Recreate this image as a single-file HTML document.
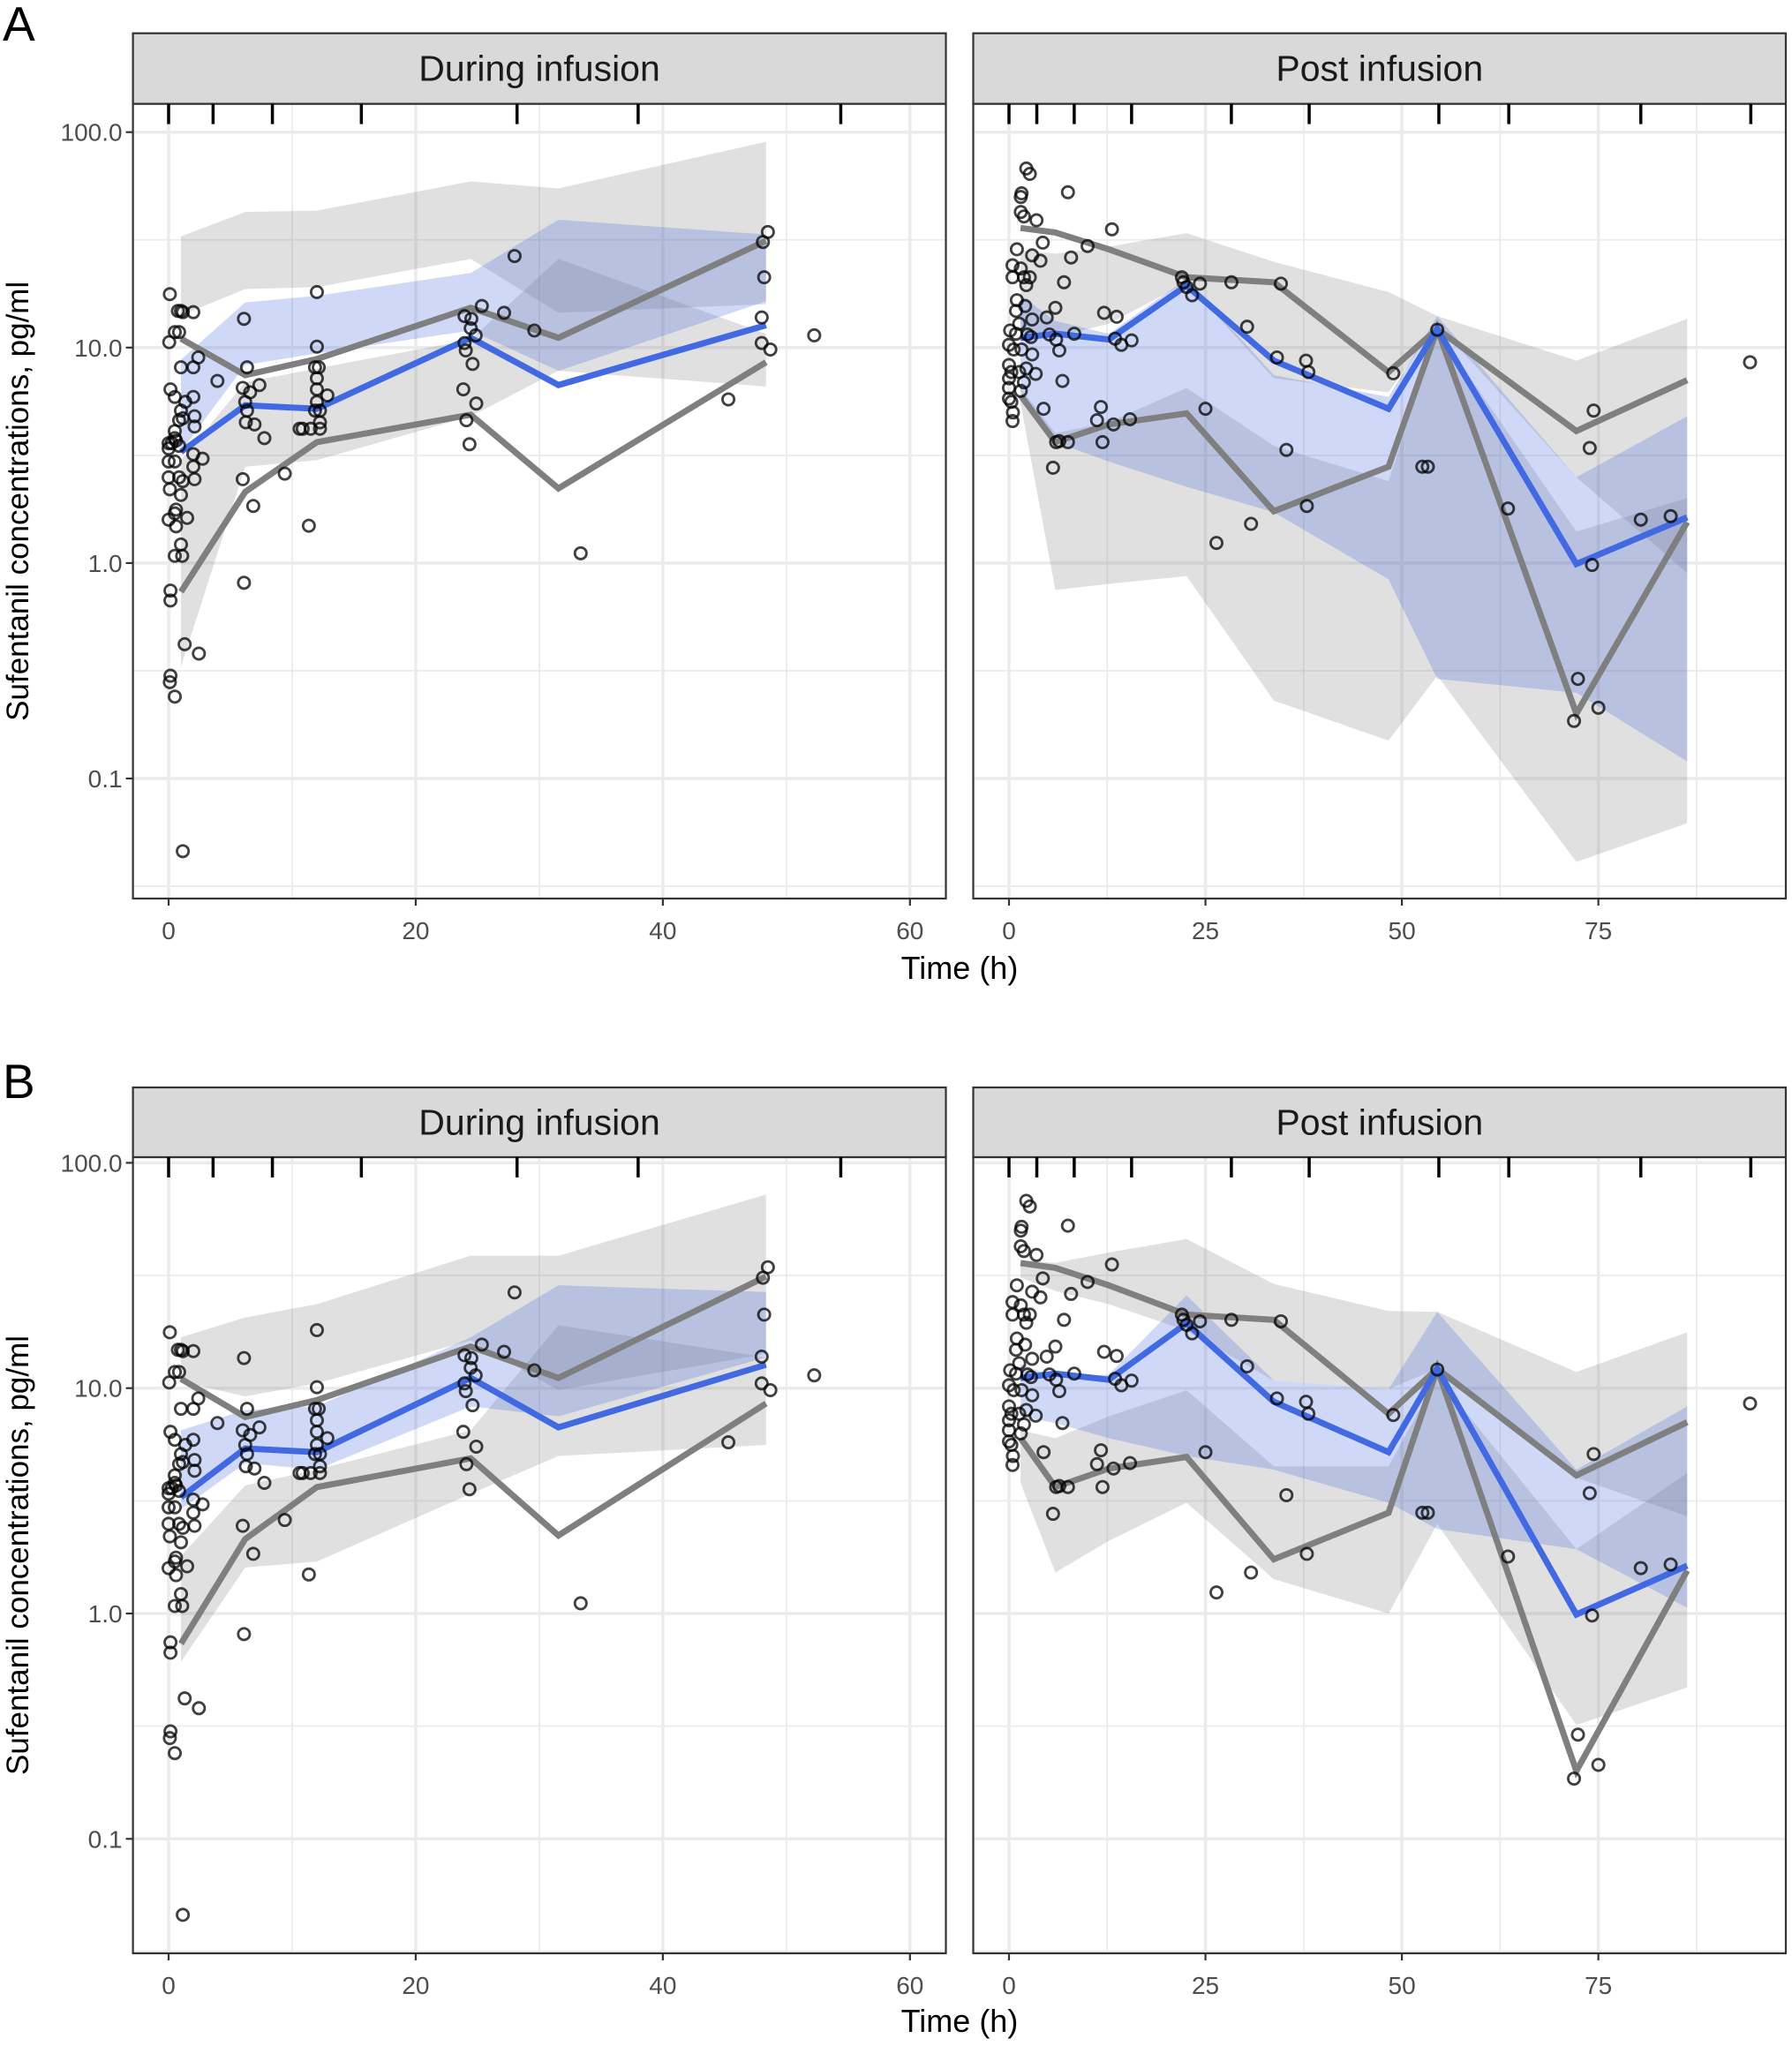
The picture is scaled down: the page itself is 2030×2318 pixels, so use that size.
<!DOCTYPE html>
<html><head><meta charset="utf-8">
<style>
html,body{margin:0;padding:0;background:#fff;}
svg{display:block;font-family:"Liberation Sans",Arial,sans-serif;}
</style></head>
<body>
<svg id="chart" width="2030" height="2318" viewBox="0 0 2030 2318" xmlns="http://www.w3.org/2000/svg"></svg>
<script>
// ---------- data ----------
const leftObsT = [0.1,0.05,0.5,0.85,0.75,1.0,1.15,2.0,2.0,1.0,2.4,3.95,0.15,0.5,1.35,2.0,1.0,1.15,0.85,2.1,2.1,0.5,0,0.25,0.6,0.85,0.5,0,2.0,2.75,0,0.5,2.0,0,0.85,2.1,1.15,0.1,1.0,0.6,0.5,0,1.5,0.6,1.0,0.5,1.1,0.15,0.15,1.3,2.45,0.15,0.1,0.5,1.15,
 6.1,6.35,6.0,6.6,7.35,6.2,6.35,6.25,6.95,7.75,6.0,6.85,6.1,9.4,
 12.0,12.0,11.85,12.15,12.0,12.0,12.85,12.0,11.85,12.25,12.25,10.6,10.85,11.5,12.25,11.35,
 23.95,24.5,24.45,24.85,25.35,23.95,24.05,24.6,23.85,24.9,24.1,24.35,27.15,28.0,29.6,33.35,
 48.5,48.1,48.2,48.0,48.0,48.7,45.3,52.25];
const leftObsC = [17.7,10.6,11.8,11.8,14.8,14.8,14.6,14.6,8.1,8.1,9.0,7.0,6.4,5.9,5.6,5.9,5.1,4.7,4.6,4.8,4.3,4.1,3.6,3.6,3.7,3.5,3.8,3.4,3.2,3.05,2.96,2.96,2.8,2.5,2.5,2.45,2.4,2.2,2.07,1.77,1.7,1.59,1.62,1.48,1.22,1.08,1.08,0.745,0.67,0.42,0.38,0.30,0.28,0.24,0.046,
 13.6,8.1,6.5,6.2,6.7,5.6,5.1,4.5,4.4,3.8,2.45,1.84,0.81,2.6,
 18.1,10.1,8.1,8.1,7.2,6.4,6.0,5.6,5.1,5.1,4.5,4.2,4.2,4.2,4.2,1.49,
 14.0,13.6,12.3,11.4,15.6,10.5,9.7,8.4,6.4,5.5,4.6,3.56,14.5,26.6,12.0,1.11,
 34.4,30.9,21.2,13.8,10.5,9.8,5.75,11.4];
const rightObsT = [2.2,2.65,1.6,1.5,7.5,1.5,1.9,3.5,13.1,4.3,10.0,1.0,2.95,7.9,4.0,0.45,1.5,0.45,1.9,2.65,7.0,2.2,22.0,22.2,22.6,23.3,24.3,28.3,34.6,
 1.0,2.05,0.9,5.9,4.8,2.95,12.1,13.7,1.3,0.15,0.9,2.35,2.8,5.15,6.0,8.3,13.5,14.3,15.6,0,0.6,1.6,2.95,6.4,0,0.3,1.3,2.2,3.4,0,1.9,6.8,0,1.5,0,0.3,0.5,0.45,4.4,11.7,11.2,13.3,15.4,6.0,6.4,7.5,11.9,5.6,
 25.0,30.3,34.1,37.8,38.1,48.9,54.5,35.3,37.9,30.8,26.4,52.6,53.3,63.5,74.4,73.9,74.2,80.4,84.2,72.4,71.9,75.0,94.3];
const rightObsC = [67.8,64,52,50,52.6,42.6,40.6,39,35.4,30.7,29.6,28.6,26.8,26.2,25.3,24.1,23.3,21.2,21.2,21.2,20.1,19.5,21.2,20.1,19.1,17.5,19.8,20.1,19.8,
 16.6,15.6,14.8,15.3,13.8,13.5,14.5,13.9,12.9,12.0,11.6,11.5,11.2,11.5,10.9,11.6,11.0,10.3,10.8,10.3,9.8,9.8,9.3,9.7,8.3,7.7,7.7,8.0,7.55,7.2,6.9,7.0,6.5,6.3,5.8,5.6,5.0,4.56,5.2,5.3,4.6,4.4,4.65,3.64,3.68,3.64,3.64,2.77,
 5.2,12.5,9.0,8.7,7.7,7.6,12.1,3.35,1.84,1.52,1.24,2.8,2.8,1.79,5.1,3.42,0.98,1.59,1.65,0.29,0.185,0.213,8.55];

const leftBinT = [1.0,6.2,12.0,24.45,31.55,48.35];
const leftMed = [3.28,5.4,5.2,11.1,6.7,12.7];
const leftP95 = [11.0,7.45,8.85,15.3,11.1,31.3];
const leftP05 = [0.735,2.14,3.64,4.88,2.22,8.55];
const rightBinT = [1.47,5.9,12.7,22.6,33.7,48.3,54.5,72.2,86.3];
const rightMed = [11.1,11.6,10.9,19.4,8.7,5.2,12.2,0.99,1.63];
const rightP95 = [35.9,34.2,28.6,21.2,20.1,7.7,12.2,4.1,7.06];
const rightP05 = [6.0,3.64,4.4,4.95,1.74,2.8,12.2,0.2,1.55];

// Model A prediction intervals
const aLeftUpHi = [32.8,42.6,43.2,59.1,54.8,90.2];
const aLeftUpLo = [14.1,18.7,19.1,25.8,14.5,15.9];
const aLeftMidHi = [8.8,16.2,17.4,22.2,39.2,33.5];
const aLeftMidLo = [3.3,8.3,9.4,12.0,7.8,16.4];
const aLeftLowHi = [3.0,6.9,8.0,10.9,25.8,11.6];
const aLeftLowLo = [0.33,2.8,3.0,4.8,7.8,6.6];
const aRightUpHi = [28.3,27.3,29.4,34,25,18.1,14,8.7,13.6];
const aRightUpLo = [11.6,11.2,12.9,20,7.2,6.2,12.9,2.5,0.9];
const aRightMidHi = [17.5,13.3,11.6,20.8,7.45,5.9,14,2.5,4.8];
const aRightMidLo = [6.3,3.64,2.96,2.26,1.72,0.84,0.29,0.25,0.12];
const aRightLowHi = [6.5,4.0,4.5,6.5,3.5,2.4,12,1.4,2.0];
const aRightLowLo = [5.5,0.75,0.8,0.87,0.23,0.15,0.3,0.041,0.062];
// Model B prediction intervals
const bLeftUpHi = [16.8,20.6,23.6,38.7,38.7,72.3];
const bLeftUpLo = [10.7,9.2,10.5,16.3,9.8,14.2];
const bLeftMidHi = [6.5,8.0,8.3,16.8,28.6,26.7];
const bLeftMidLo = [2.9,4.65,4.35,8.3,7.5,13.7];
const bLeftLowHi = [1.8,3.7,4.35,6.5,19,13.7];
const bLeftLowLo = [0.61,1.6,1.7,3.4,5.0,5.6];
const bRightUpHi = [36.7,36,40,45.9,29,22,21.8,11.8,17.7];
const bRightUpLo = [31,27,23.6,18,10.8,9.9,12.2,4.0,2.7];
const bRightMidHi = [12.8,11.2,11.5,25.8,10.8,9.9,21.8,4.35,8.3];
const bRightMidLo = [7.5,7.0,6.0,5.0,4.35,3.1,2.37,1.93,1.06];
const bRightLowHi = [6.5,6.0,7.5,9.8,4.5,4.5,11.2,1.93,4.2];
const bRightLowLo = [3.8,1.52,2.1,3.1,1.42,1.0,2.5,0.32,0.47];

const leftRug = [0,3.6,8.4,15.6,28.2,38.0,54.4];
const rightRug = [0,3.54,8.3,15.6,28.3,38.2,54.7,63.6,80.4,94.4];
const yTicks = [100,10,1,0.1];
const yTickLabels = ["100.0","10.0","1.0","0.1"];
const leftXTicks = [0,20,40,60];
const rightXTicks = [0,25,50,75];

// ---------- drawing ----------
const NS = "http://www.w3.org/2000/svg";
const svg = document.getElementById('chart');
function mk(tag, attrs, parent){
  const e = document.createElementNS(NS, tag);
  for (const k in attrs) e.setAttribute(k, attrs[k]);
  (parent||svg).appendChild(e);
  return e;
}

const rows = [
  {label:"A", labelY:46, stripTop:37.7, top:117.6, bottom:1018, y1:637.9, dec:244.1, tickY:1064, titleY:1109,
   bands:{left:[aLeftUpHi,aLeftUpLo,aLeftMidHi,aLeftMidLo,aLeftLowHi,aLeftLowLo], right:[aRightUpHi,aRightUpLo,aRightMidHi,aRightMidLo,aRightLowHi,aRightLowLo]}},
  {label:"B", labelY:1244, stripTop:1232, top:1311, bottom:2213, y1:1828, dec:255.3, tickY:2259, titleY:2302,
   bands:{left:[bLeftUpHi,bLeftUpLo,bLeftMidHi,bLeftMidLo,bLeftLowHi,bLeftLowLo], right:[bRightUpHi,bRightUpLo,bRightMidHi,bRightMidLo,bRightLowHi,bRightLowLo]}}
];
const panels = {
  left:{x0:150.6, x1:1071.5, org:191, ppu:13.997, title:"During infusion", binT:leftBinT, med:leftMed, p95:leftP95, p05:leftP05, obsT:leftObsT, obsC:leftObsC, rug:leftRug, xt:leftXTicks, minor:[10,30,50]},
  right:{x0:1102.5, x1:2023, org:1143, ppu:8.902, title:"Post infusion", binT:rightBinT, med:rightMed, p95:rightP95, p05:rightP05, obsT:rightObsT, obsC:rightObsC, rug:rightRug, xt:rightXTicks, minor:[12.5,37.5,62.5,87.5]}
};

rows.forEach((r, ri) => {
  const rowG = mk('g', {});
  
  
  const yS = v => r.y1 - r.dec * Math.log10(v);

  const lab = mk('text', {x:3, y:r.labelY, 'font-size':55, fill:'#000'}, rowG);
  lab.textContent = r.label;
  
  

  const yl = mk('text', {x:0, y:0, 'font-size':35, fill:'#000', 'text-anchor':'middle',
    transform:'translate(32,' + ((r.top + r.bottom)/2) + ') rotate(-90)'}, rowG);
  yl.textContent = 'Sufentanil concentrations, pg/ml';
  
  

  const xt = mk('text', {x:1087, y:r.titleY, 'font-size':36, fill:'#000', 'text-anchor':'middle'}, rowG);
  xt.textContent = 'Time (h)';
  
  

  Object.keys(panels).forEach(pk => {
    const p = panels[pk];
    const xS = t => p.org + p.ppu * t;
    const g = mk('g', {}, rowG);
    
    
    const clipId = 'clip' + ri + pk;
    const cp = mk('clipPath', {id:clipId}, g);
    mk('rect', {x:p.x0, y:r.top, width:p.x1-p.x0, height:r.bottom-r.top}, cp);
    mk('rect', {x:p.x0, y:r.top, width:p.x1-p.x0, height:r.bottom-r.top, fill:'#fff'}, g);
    const inner = mk('g', {'clip-path':'url(#' + clipId + ')'}, g);
    const minorY = [];
    for (let e = -2; e <= 2; e++) minorY.push(Math.pow(10, e + 0.5));
    minorY.forEach(v => {
      const gl = mk('line', {x1:p.x0, x2:p.x1, y1:yS(v), y2:yS(v), stroke:'#ebebeb', 'stroke-width':1.8}, inner);
      
      
    });
    p.minor.forEach(t => {
      const gl = mk('line', {x1:xS(t), x2:xS(t), y1:r.top, y2:r.bottom, stroke:'#ebebeb', 'stroke-width':1.8}, inner);
      
      
    });
    yTicks.forEach(v => {
      const gl = mk('line', {x1:p.x0, x2:p.x1, y1:yS(v), y2:yS(v), stroke:'#ebebeb', 'stroke-width':3.5}, inner);
      
      
    });
    p.xt.forEach(t => {
      const gl = mk('line', {x1:xS(t), x2:xS(t), y1:r.top, y2:r.bottom, stroke:'#ebebeb', 'stroke-width':3.5}, inner);
      
      
    });
    const B = r.bands[pk];
    const bandDefs = [
      {hi:B[0], lo:B[1], fill:'rgba(127,127,127,0.24)', name:'upper-percentile-band'},
      {hi:B[4], lo:B[5], fill:'rgba(127,127,127,0.24)', name:'lower-percentile-band'},
      {hi:B[2], lo:B[3], fill:'rgba(65,105,225,0.25)', name:'median-band'}
    ];
    bandDefs.forEach(bd => {
      let pts = p.binT.map((t,i) => xS(t) + ',' + yS(bd.hi[i]));
      for (let i = p.binT.length - 1; i >= 0; i--) pts.push(xS(p.binT[i]) + ',' + yS(bd.lo[i]));
      const poly = mk('polygon', {points:pts.join(' '), fill:bd.fill, stroke:'none'}, inner);
      
      
    });
    const lineDefs = [
      {v:p.p95, c:'#7f7f7f', name:'observed-95th-line'},
      {v:p.p05, c:'#7f7f7f', name:'observed-5th-line'},
      {v:p.med, c:'#4169e1', name:'observed-median-line'}
    ];
    lineDefs.forEach(ld => {
      const pl = mk('polyline', {points:p.binT.map((t,i) => xS(t) + ',' + yS(ld.v[i])).join(' '), fill:'none', stroke:ld.c, 'stroke-width':7, 'stroke-linejoin':'miter'}, inner);
      
      
    });
    p.obsT.forEach((t,i) => {
      const c = mk('circle', {cx:xS(t), cy:yS(p.obsC[i]), r:6.6, fill:'none', stroke:'rgba(0,0,0,0.75)', 'stroke-width':2.8}, inner);
      
      
    });
    mk('rect', {x:p.x0, y:r.top, width:p.x1-p.x0, height:r.bottom-r.top, fill:'none', stroke:'#333', 'stroke-width':2.2}, g);
    const st = mk('rect', {x:p.x0, y:r.stripTop, width:p.x1-p.x0, height:r.top-r.stripTop, fill:'#d9d9d9', stroke:'#333', 'stroke-width':2.2}, g);
    
    
    const stt = mk('text', {x:(p.x0+p.x1)/2, y:(r.stripTop + r.top)/2 + 14, 'font-size':41, fill:'#1a1a1a', 'text-anchor':'middle'}, g);
    stt.textContent = p.title;
    
    
    p.rug.forEach(t => {
      const rl = mk('line', {x1:xS(t), x2:xS(t), y1:r.top, y2:r.top + 23, stroke:'#000', 'stroke-width':3.5}, g);
      
      
    });
    p.xt.forEach(t => {
      mk('line', {x1:xS(t), x2:xS(t), y1:r.bottom, y2:r.bottom + 8, stroke:'#333', 'stroke-width':2.2}, g);
      const tl = mk('text', {x:xS(t), y:r.tickY, 'font-size':28, fill:'#4d4d4d', 'text-anchor':'middle'}, g);
      tl.textContent = String(t);
      
      
    });
    if (pk === 'left') {
      yTicks.forEach((v,i) => {
        mk('line', {x1:p.x0 - 8, x2:p.x0, y1:yS(v), y2:yS(v), stroke:'#333', 'stroke-width':2.2}, g);
        const tl = mk('text', {x:p.x0 - 12, y:yS(v) + 10, 'font-size':28, fill:'#4d4d4d', 'text-anchor':'end'}, g);
        tl.textContent = yTickLabels[i];
        
        
      });
    }
  });
});
</script>
</body></html>
